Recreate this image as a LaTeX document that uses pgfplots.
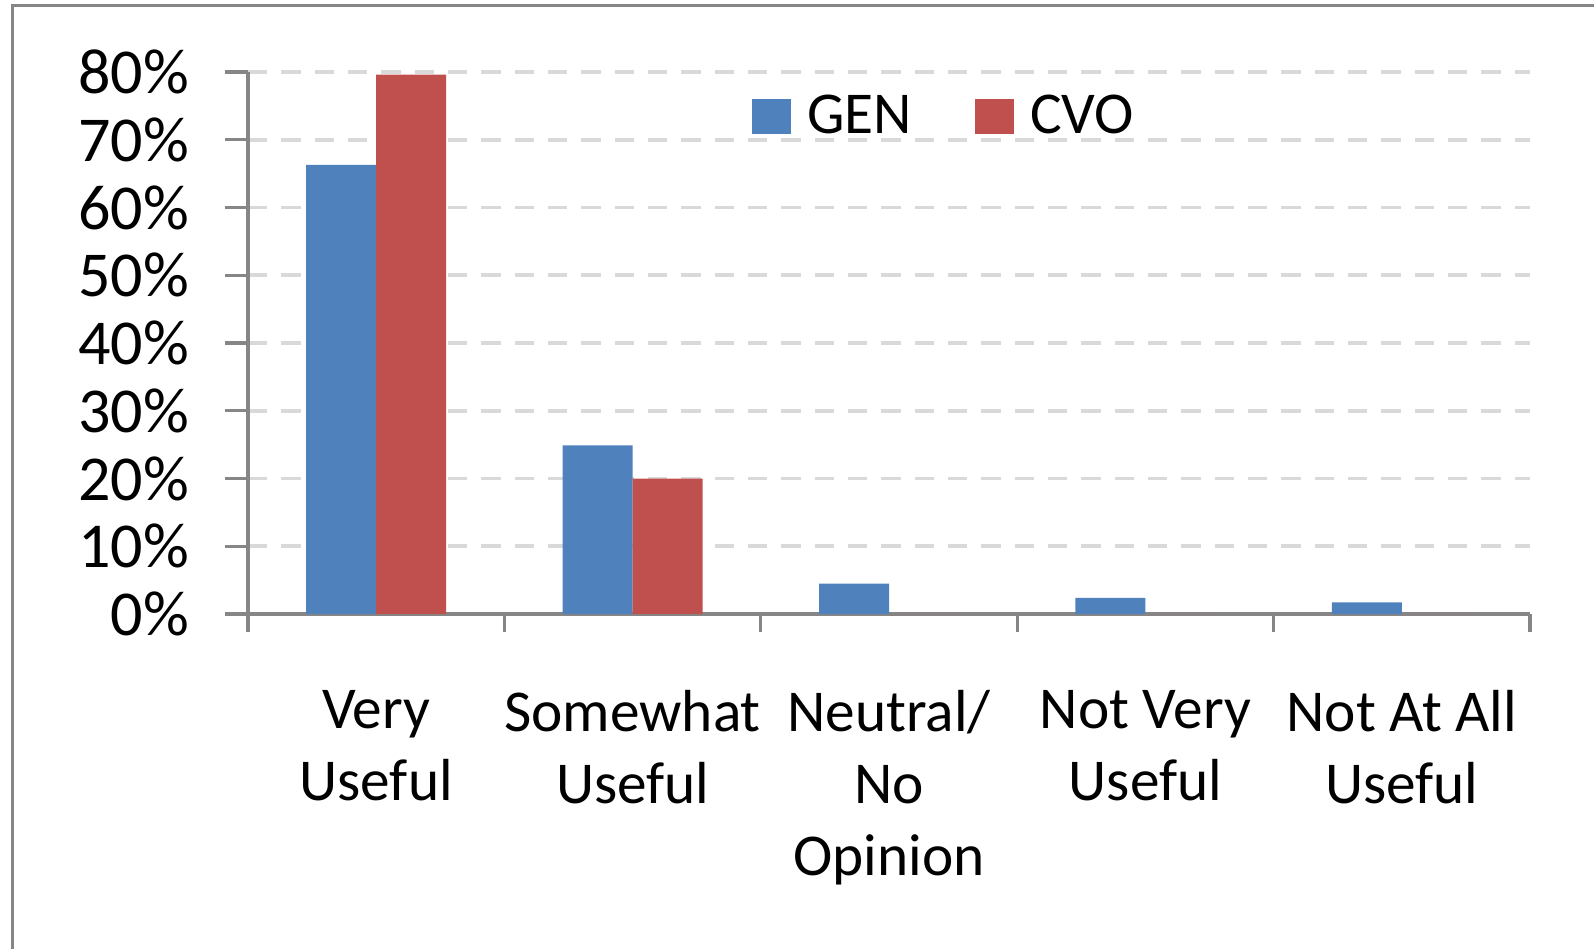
\documentclass[border=0pt]{standalone}
\usepackage{pgfplots}
\pgfplotsset{compat=1.18}
\usepackage{fontspec}
\setmainfont{Carlito}
\definecolor{genblue}{HTML}{4F81BD}
\definecolor{cvored}{HTML}{C0504D}
\definecolor{axgray}{HTML}{868686}
\definecolor{gridgray}{HTML}{D9D9D9}
\begin{document}
\begin{tikzpicture}[x=1pt,y=1pt]
\useasboundingbox (0,0) rectangle (478.2,284.4);
\draw[axgray, line width=0.9pt] (3.6,-10) -- (3.6,282.7) -- (500,282.7);
\begin{axis}[
 at={(74.4pt,100.2pt)}, anchor=south west, scale only axis,
 width=384.6pt, height=162.6pt,
 ybar=0pt, bar width=21pt,
 xmin=-0.5, xmax=4.5, ymin=0, ymax=80,
 axis x line=bottom, axis y line=left,
 axis line style={-, axgray, line width=1pt},
 tick align=outside,
 xtick={0,...,4},
 xticklabels={{Very\\Useful},{Somewhat\\Useful},{Neutral/\\No\\Opinion},{Not Very\\Useful},{Not At All\\Useful}},
 x tick label style={align=center, font=\fontsize{17.8}{21.6}\selectfont, yshift=-12.5pt},
 major x tick style={draw=none},
 minor xtick={-0.5,0.5,...,4.5},
 minor x tick style={axgray, line width=1pt},
 minor tick length=5.4pt,
 major tick length=6.9pt,
 ytick={0,10,...,80},
 yticklabels={0\%,10\%,20\%,30\%,40\%,50\%,60\%,70\%,80\%},
 y tick label style={font=\fontsize{19.2}{22}\selectfont, xshift=-7.3pt},
 y tick style={axgray, line width=1pt},
 ymajorgrids=true,
 major grid style={gridgray, line width=1.1pt, dash pattern=on 5.8pt off 4.2pt},
 legend style={at={(0.385,0.918)}, anchor=west, draw=none, fill=none,
   legend columns=2, font=\fontsize{17.8}{21.6}\selectfont,
   /tikz/every odd column/.append style={column sep=3pt},
   /tikz/every even column/.append style={column sep=17pt}},
]
\addplot[fill=genblue, draw=none, legend image code/.code={\fill[genblue] (0pt,-5.3pt) rectangle (11.5pt,5.3pt);}]
 coordinates {(0,66.3) (1,24.9) (2,4.5) (3,2.4) (4,1.7)};
\addplot[fill=cvored, draw=none, legend image code/.code={\fill[cvored] (0pt,-5.3pt) rectangle (11.5pt,5.3pt);}]
 coordinates {(0,79.6) (1,20.0) (2,0) (3,0) (4,0)};
\legend{GEN,CVO}
\end{axis}
\end{tikzpicture}
\end{document}
